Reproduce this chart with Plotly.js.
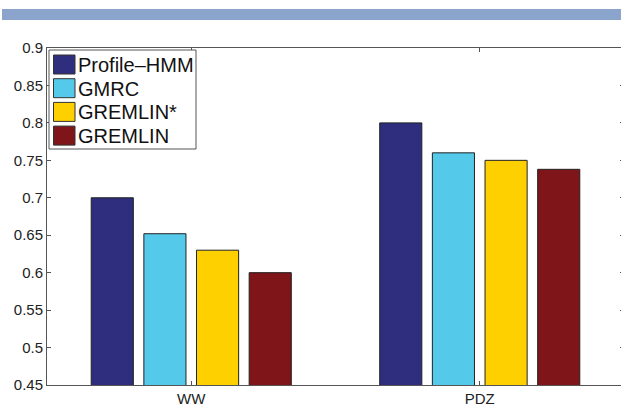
<!DOCTYPE html>
<html>
<head>
<meta charset="utf-8">
<script src="https://cdn.plot.ly/plotly-3.0.1.min.js"></script>
<style>
  html, body { margin: 0; padding: 0; background: #fff; overflow: hidden; width: 621px; height: 406px; }
  #banner { position: absolute; left: 2px; top: 9px; width: 619px; height: 11px; background: #8ba4cb; }
  #plot { position: absolute; left: 0; top: 0; width: 630px; height: 406px; }
</style>
</head>
<body>
<div id="plot"></div>
<div id="banner"></div>
<script>
const categories = ['WW', 'PDZ'];
const methods = ['Profile\u2013HMM', 'GMRC', 'GREMLIN*', 'GREMLIN'];
const profileHmm = [0.70, 0.80];
const gmrc = [0.652, 0.76];
const gremlinStar = [0.63, 0.75];
const gremlin = [0.60, 0.738];
const colors = ['#2e2d7e', '#55c9ea', '#ffd000', '#7f1518'];
const yTickVals = [0.45, 0.5, 0.55, 0.6, 0.65, 0.7, 0.75, 0.8, 0.85, 0.9];
const yTickText = ['0.45', '0.5', '0.55', '0.6', '0.65', '0.7', '0.75', '0.8', '0.85', '0.9'];

const series = [profileHmm, gmrc, gremlinStar, gremlin];
const font = 'Liberation Sans, Arial, Helvetica, sans-serif';

// plot box in pixels (used for the hand-made legend)
const W = 630, H = 406;
const M = { l: 47, r: 6, t: 48, b: 21 };
const pw = W - M.l - M.r, ph = H - M.t - M.b;
const px = (x) => (x - M.l) / pw;
const py = (y) => 1 - (y - M.t) / ph;

const data = series.map((vals, i) => ({
  type: 'bar',
  name: methods[i],
  x: categories,
  y: vals,
  marker: { color: colors[i], line: { color: '#222', width: 1 } },
  hoverinfo: 'none',
  showlegend: false
}));

// MATLAB-style legend: big swatches, boxed
const shapes = [{
  type: 'rect', xref: 'paper', yref: 'paper',
  x0: px(49), x1: px(196), y0: py(50), y1: py(149),
  fillcolor: '#fff', line: { color: '#555', width: 1 }
}];
const annotations = [];
methods.forEach((name, i) => {
  const top = 55 + i * 23.7;
  shapes.push({
    type: 'rect', xref: 'paper', yref: 'paper',
    x0: px(53.5), x1: px(75), y0: py(top), y1: py(top + 19),
    fillcolor: colors[i], line: { color: '#333', width: 1 }
  });
  annotations.push({
    xref: 'paper', yref: 'paper', x: px(76), y: py(top + 10),
    xanchor: 'left', yanchor: 'middle', showarrow: false,
    text: name, font: { family: font, size: 20, color: '#111' }
  });
});

const axisBase = {
  showline: true,
  linecolor: '#555',
  linewidth: 1,
  mirror: 'ticks',
  ticks: 'inside',
  ticklen: 4,
  tickcolor: '#555',
  showgrid: false,
  zeroline: false,
  tickfont: { family: font, size: 15, color: '#222' }
};

const layout = {
  width: W,
  height: H,
  margin: M,
  paper_bgcolor: 'rgba(0,0,0,0)',
  plot_bgcolor: '#fff',
  barmode: 'group',
  bargap: 0.27,
  bargroupgap: 0.2,
  showlegend: false,
  shapes: shapes,
  annotations: annotations,
  xaxis: Object.assign({}, axisBase, { type: 'category', range: [-0.5, 1.5] }),
  yaxis: Object.assign({}, axisBase, {
    range: [0.45, 0.9],
    tickvals: yTickVals,
    ticktext: yTickText
  })
};

Plotly.newPlot('plot', data, layout, { staticPlot: true, displayModeBar: false });
</script>
</body>
</html>
